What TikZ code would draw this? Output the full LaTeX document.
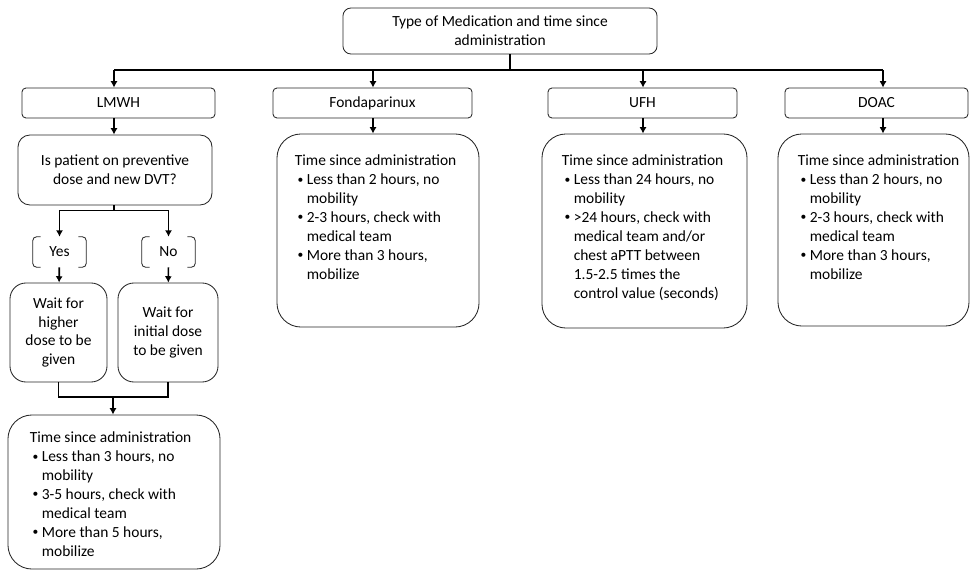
\documentclass[tikz,border=0pt]{standalone}
\usepackage{fontspec}
\setmainfont{Carlito}
\usetikzlibrary{arrows.meta}

\newcommand{\titem}[1]{\makebox[8.5pt][l]{\hspace{2pt}\raisebox{0.15ex}{\scalebox{0.75}{\textbullet}}}%
  \begin{tabular}[t]{@{}l@{}}#1\end{tabular}}
\newcommand{\timelist}[1]{\begin{tabular}{@{}l@{}}Time since administration\\#1\end{tabular}}

\tikzset{
  box/.style={draw=black!85, line width=0.6pt, inner sep=0pt, align=center},
  head/.style={box, rounded corners=0.1cm, minimum height=0.75cm},
  answer/.style={inner sep=0pt, minimum width=1.325cm, minimum height=0.75cm},
  detail/.style={box, rounded corners=0.6cm},
  txt/.style={anchor=north west, inner sep=0pt},
  link/.style={line width=1.2pt},
  arr/.style={link, -{Latex[length=4.5pt,width=5pt]}}
}

\begin{document}
\begin{tikzpicture}[x=0.025cm, y=-0.025cm, font=\fontsize{11pt}{13.5pt}\selectfont]
\useasboundingbox[fill=white] (0,0) rectangle (970,571);

% top level
\node[box, rounded corners=0.2cm, minimum width=7.85cm, minimum height=1.15cm] (type) at (500,31)
  {Type of Medication and time since\\administration};

\coordinate (split) at (510,70);
\coordinate (b1) at (114,70);
\coordinate (b2) at (373,70);
\coordinate (b3) at (643,70);
\coordinate (b4) at (883,70);

% medication
\node[head, minimum width=4.825cm] (lmwh) at (118.5,103) {LMWH};
\node[head, minimum width=4.975cm] (fon) at (372.5,103) {Fondaparinux};
\node[head, minimum width=4.725cm] (ufh) at (642.5,103) {UFH};
\node[head, minimum width=4.575cm] (doac) at (876.5,103) {DOAC};

\draw[link] (type.south -| split) -- (split);
\draw[link] (b1) -- (b4);
\draw[arr] (b1) -- (b1 |- lmwh.north);
\draw[arr] (b2) -- (b2 |- fon.north);
\draw[arr] (b3) -- (b3 |- ufh.north);
\draw[arr] (b4) -- (b4 |- doac.north);

% LMWH branch
\node[box, rounded corners=0.3cm, minimum width=4.85cm, minimum height=1.75cm] (quest) at (115,170)
  {Is patient on preventive\\dose and new DVT?};
\node[answer] (yes) at (59.5,252) {Yes};
\node[answer] (no) at (168.5,252) {No};
% bracket sides of the answers
\foreach \n in {yes,no}{
  \draw[box, rounded corners=0.1cm] ([xshift=0.2cm]\n.north west) -- (\n.north west) -- (\n.south west) -- ([xshift=0.2cm]\n.south west);
  \draw[box, rounded corners=0.1cm] ([xshift=-0.2cm]\n.north east) -- (\n.north east) -- (\n.south east) -- ([xshift=-0.2cm]\n.south east);
}
\node[box, rounded corners=0.4cm, minimum width=2.425cm, minimum height=2.475cm] (higher) at (58.5,332.5)
  {Wait for\\higher\\dose to be\\given};
\node[box, rounded corners=0.4cm, minimum width=2.5cm, minimum height=2.475cm] (initial) at (168,332.5)
  {Wait for\\initial dose\\to be given};
\node[detail, minimum width=5.3cm, minimum height=3.85cm] (lmwhtime) at (114,492) {};
\node[txt] (lmwhtxt) at ([xshift=0.55cm, yshift=-0.35cm]lmwhtime.north west)
  {\timelist{\titem{Less than 3 hours, no\\mobility}\\
             \titem{3-5 hours, check with\\medical team}\\
             \titem{More than 5 hours,\\mobilize}}};

\draw[arr] (lmwh.south -| b1) -- (b1 |- quest.north);
\draw[link] (quest.south -| b1) -- ++(0,5) coordinate (qsplit);
\draw[arr] (qsplit) -| (yes.north);
\draw[arr] (qsplit) -| (no.north);
\draw[arr] (yes) -- (higher);
\draw[arr] (no) -- (initial);
\coordinate (join) at (113,397);
\draw[link] (higher.south) |- (join) -| (initial.south);
\draw[arr] (join) -- (join |- lmwhtime.north);

% other medications
\node[detail, minimum width=5.05cm, minimum height=4.825cm] (fontime) at (378,230.5) {};
\node[txt] (fontxt) at ([xshift=0.45cm, yshift=-0.45cm]fontime.north west)
  {\timelist{\titem{Less than 2 hours, no\\mobility}\\
             \titem{2-3 hours, check with\\medical team}\\
             \titem{More than 3 hours,\\mobilize}}};

\node[detail, minimum width=5.125cm, minimum height=4.85cm] (ufhtime) at (644.5,231) {};
\node[txt] (ufhtxt) at ([xshift=0.5cm, yshift=-0.45cm]ufhtime.north west)
  {\timelist{\titem{Less than 24 hours, no\\mobility}\\
             \titem{>24 hours, check with\\medical team and/or\\chest aPTT between\\1.5-2.5 times the\\control value (seconds)}}};

\node[detail, minimum width=4.775cm, minimum height=4.8cm] (doactime) at (873.5,230) {};
\node[txt] (doactxt) at ([xshift=0.5cm, yshift=-0.45cm]doactime.north west)
  {\timelist{\titem{Less than 2 hours, no\\mobility}\\
             \titem{2-3 hours, check with\\medical team}\\
             \titem{More than 3 hours,\\mobilize}}};

\draw[arr] (fon.south -| b2) -- (b2 |- fontime.north);
\draw[arr] (ufh.south -| b3) -- (b3 |- ufhtime.north);
\draw[arr] (doac.south -| b4) -- (b4 |- doactime.north);
\end{tikzpicture}
\end{document}
